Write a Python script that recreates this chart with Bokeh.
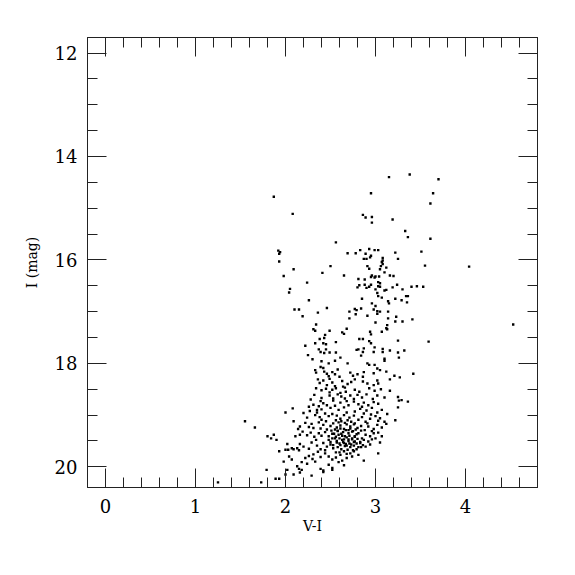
from bokeh.plotting import figure
from bokeh.models import Range1d, FixedTicker, LinearAxis, CustomJSTickFormatter, ColumnDataSource
from bokeh.embed import file_html
from bokeh.resources import INLINE

# (V-I, I) pairs, grouped by region
upper_stars = [
    (1.87,14.78),(2.08,15.11),(3.15,14.40),(3.38,14.35),(3.70,14.44),(2.95,14.71),(3.64,14.71),(3.61,14.91),
    (2.86,15.13),(2.89,15.18),(2.96,15.17),(2.96,15.28),(3.19,15.22),(3.33,15.44),(3.36,15.56),(3.61,15.59),
    (2.56,15.66),(1.92,15.82),(1.94,15.85),(1.93,15.88),(1.93,16.03),(2.09,16.18),(1.98,16.31),(2.05,16.56),
    (2.04,16.63),(2.26,16.78),(2.10,16.96),(2.15,16.96),(2.19,17.09),(2.36,17.02),(2.46,16.93),(2.24,16.44),
    (2.41,16.25),(2.50,16.12),(2.65,16.30),(2.69,15.87),(2.78,15.87),(2.83,15.81),(2.93,15.79),(2.99,15.81),
    (3.03,15.81),(2.89,15.88),(2.95,15.92),(2.94,15.95),(2.87,15.98),(2.90,15.98),(3.08,15.96),(3.08,16.01),
    (3.07,16.04),(3.08,16.08),(3.06,16.12),(2.91,16.12),(2.93,16.17),(3.12,16.15),(3.05,16.18),(3.10,16.24),
    (3.22,15.86),(3.25,15.98),(3.51,15.84),(3.55,16.11),(2.96,16.30),(2.99,16.34),(3.00,16.32),(3.04,16.32),
    (2.95,16.33),(3.16,16.30),(3.20,16.31),(2.81,16.37),(2.88,16.38),(3.03,16.43),(3.05,16.45),(3.03,16.51),
    (3.05,16.52),(2.95,16.48),(2.93,16.52),(2.82,16.49),(2.80,16.53),(2.90,16.54),(2.88,16.48),(3.00,16.57),
    (3.10,16.59),(3.12,16.58),(3.19,16.53),(3.24,16.48),(3.30,16.57),(3.40,16.52),(3.46,16.51),(3.53,16.52),
    (3.02,16.64),(3.03,16.70),(3.07,16.73),(2.85,16.75),(2.96,16.84),(3.00,16.89),(3.14,16.80),(3.15,16.84),
    (3.22,16.75),(3.29,16.78),(3.34,16.70),(3.36,16.70),(3.35,16.82),(2.77,16.95),(2.79,16.97),(2.84,16.94),
    (2.71,17.00),(2.78,17.05),(2.71,17.13),(2.91,17.08),(2.98,16.96),(3.02,16.99),(3.05,17.00),(3.02,17.04),
    (3.14,17.00),(3.23,17.10),(3.14,17.13),(3.41,17.15),
    (4.04,16.13),(3.30,17.19),(4.53,17.25),(3.59,17.58),(3.32,17.75),
]

middle_stars = [
    (3.00,17.21),(3.13,17.26),(3.22,17.19),(2.34,17.25),(2.31,17.34),(2.33,17.37),(2.44,17.45),(2.43,17.51),
    (2.49,17.37),(2.63,17.40),(2.65,17.43),(2.68,17.33),(2.94,17.39),(2.95,17.44),(3.12,17.32),(3.13,17.34),
    (3.07,17.39),(2.22,17.66),(2.33,17.61),(2.38,17.53),(2.42,17.61),(2.45,17.63),(2.56,17.59),(2.82,17.53),
    (2.86,17.53),(2.93,17.57),(2.95,17.61),(3.25,17.56),(2.81,17.73),(2.79,17.74),(2.87,17.71),(2.86,17.78),
    (2.84,17.85),(2.99,17.69),(2.98,17.78),(3.08,17.72),(3.08,17.78),(3.16,17.75),(3.25,17.79),(2.25,17.84),
    (2.30,17.92),(2.37,17.73),(2.39,17.78),(2.43,17.80),(2.45,17.73),(2.49,17.79),(2.56,17.79),(2.40,17.96),
    (2.48,18.00),(2.61,17.89),(2.55,17.95),(2.69,18.00),(2.91,18.00),(2.93,18.03),(2.99,18.03),(3.02,18.10),
    (3.10,17.91),(3.10,17.95),(3.42,18.20),(2.33,18.13),(2.34,18.18),(2.39,18.07),(2.42,18.09),(2.43,18.16),
    (2.46,18.20),(2.48,18.25),(2.52,18.17),(2.55,18.21),(2.58,18.12),(2.60,18.26),(2.72,18.18),(2.75,18.24),
    (2.80,18.21),(2.86,18.26),(2.87,18.17),(2.98,18.19),(3.05,18.13),(3.12,18.16),(3.21,18.24),(3.27,18.27),
    (2.36,18.31),(2.38,18.38),(2.42,18.33),(2.46,18.42),(2.49,18.30),(2.52,18.37),(2.55,18.44),(2.63,18.34),
    (2.64,18.45),(2.69,18.40),(2.73,18.36),(2.77,18.31),(2.86,18.35),(2.91,18.39),(2.98,18.42),(3.02,18.33),
    (3.03,18.39),(3.16,18.31),(2.34,18.48),(2.40,18.52),(2.45,18.49),(2.49,18.56),(2.52,18.51),(2.56,18.48),
    (2.61,18.57),(2.66,18.47),(2.67,18.55),(2.77,18.51),(2.82,18.55),(2.93,18.48),(2.99,18.53),(3.06,18.50),
    (3.16,18.53),(3.25,18.65),(2.32,18.61),(2.40,18.67),(2.49,18.62),(2.53,18.68),(2.58,18.60),(2.62,18.64),
    (2.66,18.68),(2.72,18.62),(2.76,18.69),(2.80,18.61),(2.85,18.66),(2.90,18.60),(2.97,18.69),(3.02,18.62),
    (3.10,18.66),(3.26,17.89),(3.26,18.72),(3.29,18.71),(3.36,18.74),(3.25,18.85),(3.22,19.10),
]

left_tail = [
    (1.55,19.12),(1.66,19.24),(1.80,19.41),(1.84,19.45),(1.87,19.38),(1.90,19.48),(2.00,18.95),(2.08,18.87),
    (2.09,19.12),(2.14,19.27),(2.11,19.41),(2.16,19.38),(2.02,19.56),(2.00,19.67),(2.03,19.67),(2.07,19.64),
    (2.09,19.66),(2.13,19.64),(2.15,19.68),(1.93,19.70),(2.04,19.80),(2.07,19.86),(1.98,19.90),(2.13,19.99),
    (2.15,20.04),(1.79,20.06),(2.02,20.06),(1.89,20.23),(1.93,20.23),(2.00,20.15),(2.09,20.15),(1.73,20.30),
    (1.25,20.30),
]

clump_left = [
    (2.39,18.73),(2.42,18.77),(2.53,18.72),(2.61,18.76),(2.68,18.73),
    (2.26,18.84),(2.31,18.80),(2.37,18.83),(2.40,18.89),(2.46,18.81),(2.50,18.86),(2.55,18.82),(2.59,18.90),
    (2.65,18.85),(2.70,18.81),
    (2.20,18.96),(2.27,18.92),(2.33,19.00),(2.35,18.95),(2.38,19.04),(2.40,19.09),(2.44,18.97),(2.48,19.02),
    (2.52,18.98),(2.57,19.01),(2.61,19.07),(2.65,19.00),(2.68,18.95),(2.71,19.05),
    (2.16,19.22),(2.22,19.15),(2.26,19.23),(2.29,19.17),(2.31,19.25),(2.37,19.14),(2.39,19.26),(2.42,19.19),
    (2.46,19.28),(2.50,19.21),(2.53,19.16),(2.57,19.24),(2.61,19.20),(2.65,19.27),(2.68,19.18),(2.70,19.29),
    (2.19,19.32),(2.24,19.39),(2.28,19.34),(2.32,19.42),(2.37,19.35),(2.40,19.40),(2.44,19.33),(2.48,19.41),
    (2.52,19.36),(2.55,19.45),(2.59,19.38),(2.63,19.48),(2.66,19.41),(2.70,19.47),
    (2.16,19.56),(2.20,19.61),(2.26,19.65),(2.29,19.53),(2.35,19.59),(2.39,19.66),(2.42,19.54),(2.46,19.61),
    (2.50,19.57),(2.53,19.64),(2.57,19.53),(2.61,19.58),(2.65,19.54),(2.68,19.59),(2.71,19.55),
    (2.18,19.91),(2.22,19.83),(2.26,19.79),(2.31,19.76),(2.36,19.71),(2.39,19.81),(2.44,19.74),(2.48,19.80),
    (2.52,19.86),(2.56,19.72),(2.61,19.77),(2.65,19.70),(2.68,19.83),
    (2.18,20.06),(2.24,19.94),(2.33,19.90),(2.39,20.04),(2.42,20.07),(2.48,19.96),(2.52,20.02),(2.59,19.91),
    (2.65,19.97),(2.16,20.11),(2.29,20.17),(2.42,20.10),(2.52,20.06),
    (2.28,18.70),(2.35,18.90),(2.45,19.12),(2.24,19.05),(2.58,19.30),(2.34,19.48),(2.44,19.68),(2.30,19.85),
]

clump_right = [
    (2.76,18.74),(2.81,18.79),(2.87,18.76),(2.92,18.81),(2.98,18.75),(3.03,18.78),
    (2.77,18.93),(2.83,18.88),(2.87,18.97),(2.90,18.91),(2.96,18.86),(3.02,18.95),(3.07,18.90),(3.13,18.98),
    (2.76,19.01),(2.81,19.09),(2.85,19.04),(2.89,19.13),(2.94,19.07),(3.00,19.02),(3.03,19.11),(3.10,19.13),
    (3.12,19.17),
    (2.72,19.22),(2.77,19.16),(2.80,19.25),(2.84,19.21),(2.88,19.29),(2.92,19.22),(2.98,19.27),(3.02,19.19),
    (3.07,19.24),
    (2.74,19.32),(2.77,19.41),(2.81,19.35),(2.85,19.45),(2.89,19.38),(2.94,19.41),(2.98,19.35),(3.03,19.34),
    (3.07,19.41),
    (2.74,19.47),(2.77,19.51),(2.83,19.54),(2.87,19.48),(2.92,19.51),(2.96,19.47),(3.05,19.53),
    (2.76,19.59),(2.79,19.66),(2.84,19.62),(2.89,19.61),(2.94,19.57),
    (2.72,19.74),(2.76,19.70),(2.81,19.77),(3.03,19.74),(2.87,19.88),
    (2.85,18.84),(2.95,18.99),(3.05,19.06),(2.91,19.16),(2.96,19.31),(3.00,19.45),
]

clump_core = [
    (2.56,19.10),(2.59,19.14),(2.62,19.12),(2.66,19.15),(2.69,19.10),(2.73,19.13),(2.76,19.18),
    (2.55,19.28),(2.58,19.31),(2.61,19.26),(2.64,19.33),(2.67,19.29),(2.72,19.26),(2.75,19.31),(2.78,19.28),
    (2.56,19.42),(2.60,19.45),(2.63,19.40),(2.65,19.47),(2.68,19.43),(2.71,19.40),(2.74,19.45),(2.77,19.42),
    (2.80,19.46),(2.57,19.50),(2.60,19.55),(2.64,19.52),(2.67,19.56),(2.70,19.50),(2.73,19.57),(2.76,19.52),
    (2.79,19.55),(2.58,19.62),(2.62,19.66),(2.66,19.60),(2.69,19.67),(2.72,19.62),(2.75,19.68),
    (2.52,19.45),(2.50,19.52),(2.53,19.58),(2.48,19.48),(2.51,19.30),(2.54,19.36),(2.62,19.36),(2.70,19.35),
    (2.79,19.37),(2.84,19.30),(2.83,19.52),(2.86,19.58),(2.81,19.62),(2.60,19.72),(2.68,19.75),(2.74,19.80),
    (2.56,19.82),(2.63,19.88),
]

x_major = [0, 1, 2, 3, 4]
y_major = [12, 14, 16, 18, 20]

stars = upper_stars + middle_stars + left_tail + clump_left + clump_right + clump_core
src = ColumnDataSource(data=dict(vi=[s[0] for s in stars], imag=[s[1] for s in stars]))

FONT = "DejaVu Serif"

p = figure(width=567, height=567, x_range=Range1d(-0.2, 4.8), y_range=Range1d(20.4, 11.7),
           output_backend="svg", toolbar_location=None,
           min_border_left=87, min_border_right=30, min_border_top=37, min_border_bottom=80,
           x_axis_label="V-I", y_axis_label="I (mag)")
p.outline_line_color = "#222222"
p.outline_line_width = 1
p.xgrid.visible = False
p.ygrid.visible = False
p.background_fill_color = "white"
p.border_fill_color = "white"

x_minor = [round(-0.2 + 0.2 * k, 2) for k in range(26)]
y_minor = [round(11.5 + 0.5 * k, 2) for k in range(20)]
xt = FixedTicker(ticks=x_major, minor_ticks=x_minor)
yt = FixedTicker(ticks=y_major, minor_ticks=y_minor)

blank = CustomJSTickFormatter(code="return ''")
p.add_layout(LinearAxis(ticker=xt, formatter=blank), "above")
p.add_layout(LinearAxis(ticker=yt, formatter=blank), "right")

for ax in p.xaxis:
    ax.ticker = xt
for ax in p.yaxis:
    ax.ticker = yt

for ax in list(p.xaxis) + list(p.yaxis):
    ax.major_tick_in = 19
    ax.major_tick_out = 0
    ax.minor_tick_in = 10
    ax.minor_tick_out = 0
    ax.axis_line_color = "#222222"
    ax.major_tick_line_color = "#222222"
    ax.minor_tick_line_color = "#222222"
    ax.major_label_text_font = FONT
    ax.major_label_text_font_size = "18px"
    ax.major_label_text_color = "black"
    ax.axis_label_text_font = FONT
    ax.axis_label_text_font_style = "normal"
    ax.axis_label_text_font_size = "14px"
    ax.axis_label_text_color = "black"

p.below[0].major_label_standoff = 11
p.below[0].axis_label_standoff = 2
p.left[0].major_label_standoff = 10
p.left[0].axis_label_standoff = 12

p.scatter("vi", "imag", source=src, marker="square", size=2.4, color="black", line_width=0)

open("out.html", "w").write(file_html(p, INLINE))
